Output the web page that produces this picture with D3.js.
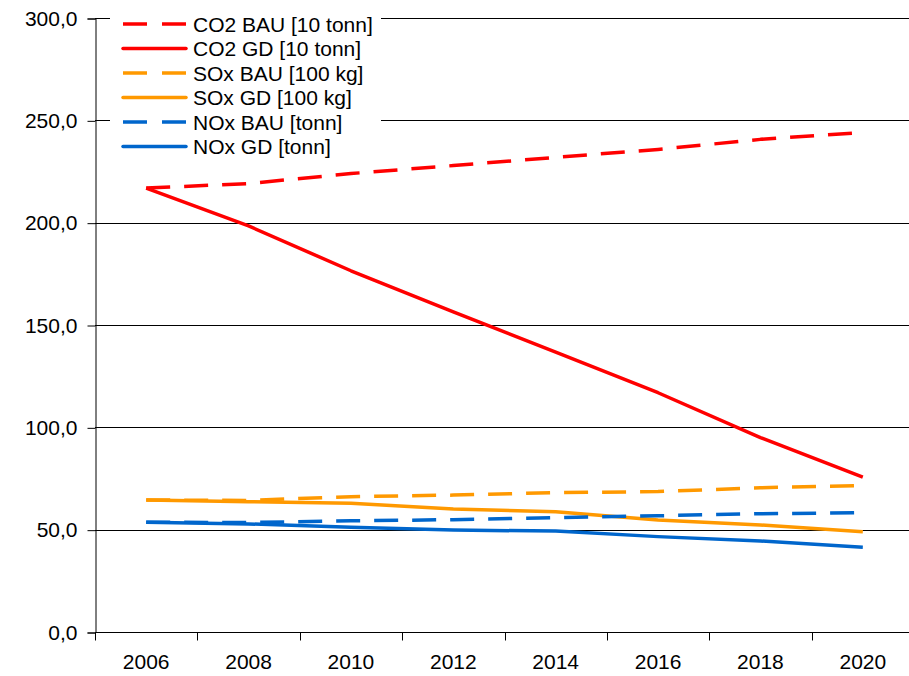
<!DOCTYPE html>
<html>
<head>
<meta charset="utf-8">
<script src="https://cdn.jsdelivr.net/npm/d3@7"></script>
<style>
html,body{margin:0;padding:0;background:#fff;}
svg{display:block;}
text{font-family:"Liberation Sans",Arial,sans-serif;}
</style>
</head>
<body>
<svg id="chart" width="909" height="676"></svg>
<script>
const years = ["2006","2008","2010","2012","2014","2016","2018","2020"];
const co2Bau = [216.9, 219.1, 224.0, 227.9, 231.9, 235.8, 240.7, 244.1];
const co2Gd  = [216.9, 198.4, 176.5, 156.4, 136.8, 116.9, 95.0, 75.7];
const soxBau = [64.5, 64.3, 66.1, 66.9, 68.1, 68.6, 70.5, 71.5];
const soxGd  = [64.5, 63.7, 62.9, 60.1, 58.8, 54.7, 52.3, 49.0];
const noxBau = [53.6, 53.5, 54.3, 54.9, 55.9, 56.8, 57.8, 58.3];
const noxGd  = [53.6, 52.8, 51.2, 49.8, 49.3, 46.6, 44.5, 41.4];
const yTicks = [0, 50, 100, 150, 200, 250, 300];

const series = [
  {name:"CO2 BAU [10 tonn]", values:co2Bau, color:"#FF0000", dashed:true},
  {name:"CO2 GD [10 tonn]",  values:co2Gd,  color:"#FF0000", dashed:false},
  {name:"SOx BAU [100 kg]",  values:soxBau, color:"#FF9900", dashed:true},
  {name:"SOx GD [100 kg]",   values:soxGd,  color:"#FF9900", dashed:false},
  {name:"NOx BAU [tonn]",    values:noxBau, color:"#0066CC", dashed:true},
  {name:"NOx GD [tonn]",     values:noxGd,  color:"#0066CC", dashed:false}
];

const svg = d3.select("#chart");
const mL = 95, mR = 914, mT = 18, mB = 632;

const x = d3.scaleBand().domain(years).range([mL, mR]).paddingInner(0).paddingOuter(0);
const y = d3.scaleLinear().domain([0, 300]).range([mB, mT]);
const fmt = v => d3.format(".1f")(v).replace(".", ",");

// gridlines
svg.append("g").selectAll("line").data(yTicks.filter(d => d > 0)).join("line")
  .attr("x1", mL).attr("x2", mR)
  .attr("y1", d => Math.round(y(d)) + 0.5).attr("y2", d => Math.round(y(d)) + 0.5)
  .attr("stroke", "#000").attr("stroke-width", 1);

// y axis
const yAxis = svg.append("g").attr("transform", `translate(${mL + 0.5},0.5)`)
  .call(d3.axisLeft(y).tickValues(yTicks).tickFormat(fmt).tickSize(8).tickPadding(10));
yAxis.select(".domain").attr("stroke", "#000");
yAxis.selectAll(".tick line").attr("stroke", "#000");
yAxis.selectAll(".tick text").attr("font-size", 21).attr("fill", "#000");

// x axis with ticks at category boundaries
const xg = svg.append("g").attr("transform", `translate(0,${mB + 0.5})`);
xg.append("line").attr("x1", mL).attr("x2", mR).attr("stroke", "#000");
const bounds = years.map(d => x(d)).concat([x(years[years.length-1]) + x.bandwidth()]);
xg.selectAll("line.tk").data(bounds).join("line").attr("class","tk")
  .attr("x1", d => Math.round(d) + 0.5).attr("x2", d => Math.round(d) + 0.5)
  .attr("y1", 0).attr("y2", 8).attr("stroke", "#000");
xg.selectAll("text").data(years).join("text")
  .attr("x", d => x(d) + x.bandwidth()/2).attr("y", 36)
  .attr("text-anchor", "middle").attr("font-size", 21).attr("fill", "#000")
  .text(d => d);

// lines
const line = d3.line().x((d, i) => x(years[i]) + x.bandwidth()/2).y(d => y(d));
svg.append("g").selectAll("path").data(series).join("path")
  .attr("d", s => line(s.values))
  .attr("fill", "none").attr("stroke", s => s.color).attr("stroke-width", 3.5)
  .attr("stroke-linejoin", "round")
  .attr("stroke-dasharray", s => s.dashed ? "24,14" : null);

// legend
const lg = svg.append("g");
lg.append("rect").attr("x", 110).attr("y", 4).attr("width", 271).attr("height", 158).attr("fill", "#fff");
const rows = lg.selectAll("g").data(series).join("g")
  .attr("transform", (d, i) => `translate(0,${24 + i * 24.5})`);
rows.append("line").attr("x1", 123).attr("x2", 186).attr("y1", 0).attr("y2", 0)
  .attr("stroke", d => d.color).attr("stroke-width", 3.5)
  .attr("stroke-dasharray", d => d.dashed ? "24,15" : null)
  .attr("stroke-linecap", d => d.dashed ? "butt" : "round");
rows.append("text").attr("x", 193).attr("y", 0).attr("dy", "0.36em")
  .attr("font-size", 21).attr("fill", "#000").text(d => d.name);
</script>
</body>
</html>
